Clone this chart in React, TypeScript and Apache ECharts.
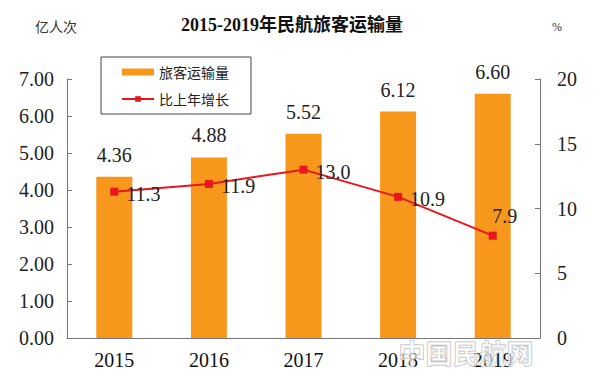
import React, { useEffect, useRef } from "react";
import * as echarts from "echarts";

const categories = ["2015", "2016", "2017", "2018", "2019"];
const passengers = [4.36, 4.88, 5.52, 6.12, 6.6];
const growth = [11.3, 11.9, 13.0, 10.9, 7.9];
const growthLabelPos = ["right", "right", "right", "right", "top"];

const SERIF = "'Liberation Serif', 'Noto Sans CJK SC', serif";

export default function App() {
  const ref = useRef<HTMLDivElement>(null);
  useEffect(() => {
    const chart = echarts.init(ref.current!, undefined, { renderer: "svg" });
    chart.setOption({
      animation: false,
      backgroundColor: "#ffffff",
      title: {
        text: "2015-2019年民航旅客运输量",
        left: 176,
        top: 11,
        textStyle: { fontFamily: SERIF, fontSize: 18, fontWeight: "bold", color: "#111" },
      },
      graphic: [
        { type: "text", left: 35, top: 19, style: { text: "亿人次", fontFamily: "'Noto Sans CJK SC', sans-serif", fontSize: 14, fill: "#333" } },
        { type: "text", left: 552, top: 21, style: { text: "%", fontFamily: SERIF, fontSize: 12, fill: "#333" } },
        {
          type: "text",
          left: 398,
          top: 338,
          z: 100,
          style: { text: "中国民航网", fontFamily: "'Noto Sans CJK SC', sans-serif", fontSize: 27, fontWeight: "bold", fill: "rgba(255,255,255,0.6)", stroke: "#b8b8b8", lineWidth: 1 },
        },
      ],
      legend: {
        orient: "vertical",
        left: 101,
        top: 57,
        width: 150,
        padding: [8, 22, 8, 20],
        borderColor: "#444",
        borderWidth: 1,
        itemGap: 13,
        itemWidth: 32,
        itemHeight: 7,
        textStyle: { fontFamily: "'Noto Sans CJK SC', sans-serif", fontSize: 14, color: "#222" },
        data: [
          { name: "旅客运输量", icon: "rect" },
          { name: "比上年增长" },
        ],
      },
      grid: { left: 67, right: 60, top: 79, bottom: 47 },
      xAxis: {
        type: "category",
        data: categories,
        axisLine: { lineStyle: { color: "#777" } },
        axisTick: { inside: true, length: 6, lineStyle: { color: "#777" } },
        axisLabel: { fontFamily: SERIF, fontSize: 20, color: "#111", margin: 12 },
      },
      yAxis: [
        {
          type: "value",
          min: 0,
          max: 7,
          interval: 1,
          splitLine: { show: false },
          axisLine: { show: true, lineStyle: { color: "#777" } },
          axisTick: { show: true, inside: true, length: 5, lineStyle: { color: "#777" } },
          axisLabel: { fontFamily: SERIF, fontSize: 20, color: "#222", formatter: (v: number) => v.toFixed(2), margin: 13 },
        },
        {
          type: "value",
          min: 0,
          max: 20,
          interval: 5,
          splitLine: { show: false },
          axisLine: { show: true, lineStyle: { color: "#777" } },
          axisTick: { show: true, inside: true, length: 5, lineStyle: { color: "#777" } },
          axisLabel: { fontFamily: SERIF, fontSize: 20, color: "#222", margin: 17 },
        },
      ],
      series: [
        {
          name: "旅客运输量",
          type: "bar",
          data: passengers,
          barWidth: 36,
          itemStyle: { color: "#f7981d" },
          label: {
            show: true,
            position: "top",
            distance: 12,
            fontFamily: SERIF,
            fontSize: 20,
            color: "#222",
            formatter: (p: any) => p.value.toFixed(2),
          },
        },
        {
          name: "比上年增长",
          type: "line",
          yAxisIndex: 1,
          data: growth.map((v, i) => ({
            value: v,
            label: growthLabelPos[i] === "top"
              ? { position: "top", offset: [12, 2] }
              : { position: "right", offset: [0, 2] },
          })),
          symbol: "rect",
          symbolSize: 8,
          lineStyle: { color: "#e8161d", width: 2 },
          itemStyle: { color: "#e8161d" },
          label: {
            show: true,
            distance: 8,
            fontFamily: SERIF,
            fontSize: 20,
            color: "#222",
            formatter: (p: any) => p.value.toFixed(1),
          },
        },
      ],
    });
    return () => chart.dispose();
  }, []);
  return <div ref={ref} style={{ width: 600, height: 385, position: "absolute", left: 0, top: 0 }} />;
}
